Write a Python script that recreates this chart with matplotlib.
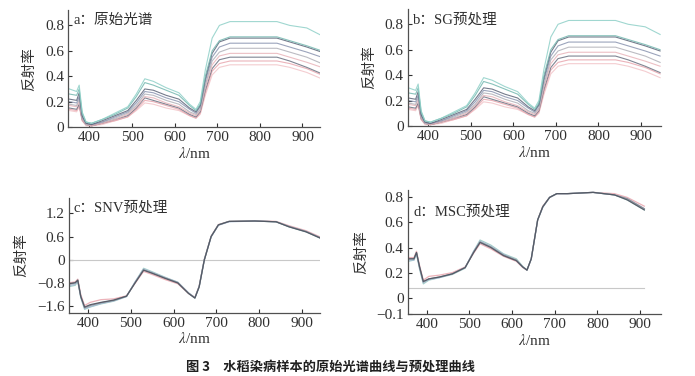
import matplotlib
matplotlib.use("Agg")
import matplotlib.pyplot as plt

plt.rcParams['font.family'] = ['Liberation Serif', 'Noto Sans CJK SC', 'DejaVu Sans']
plt.rcParams['mathtext.fontset'] = 'stix'

# wavelengths (nm) used for panels a, b and c
wl = [353, 370, 376, 383, 392, 405, 430, 460, 490, 510, 530, 550, 580,
      610, 635, 650, 660, 672, 688, 705, 730, 790, 840, 870, 910, 945]

# raw reflectance spectra (panel a), one list per sample
raw_teal = [0.30, 0.28, 0.33, 0.12, 0.04, 0.03, 0.06, 0.11, 0.16, 0.26, 0.38, 0.36, 0.31,
            0.27, 0.18, 0.14, 0.20, 0.45, 0.70, 0.80, 0.83, 0.83, 0.83, 0.80, 0.78, 0.72]
raw_teal2 = [0.26, 0.25, 0.30, 0.11, 0.04, 0.03, 0.06, 0.10, 0.15, 0.24, 0.35, 0.33, 0.29,
             0.25, 0.17, 0.13, 0.18, 0.40, 0.60, 0.68, 0.71, 0.71, 0.71, 0.68, 0.64, 0.60]
raw_dark = [0.22, 0.21, 0.27, 0.09, 0.03, 0.02, 0.05, 0.09, 0.13, 0.21, 0.30, 0.29, 0.25,
            0.22, 0.15, 0.12, 0.17, 0.38, 0.58, 0.67, 0.70, 0.70, 0.70, 0.67, 0.63, 0.59]
raw_slate = [0.20, 0.19, 0.24, 0.08, 0.03, 0.02, 0.04, 0.08, 0.12, 0.19, 0.28, 0.27, 0.23,
             0.20, 0.14, 0.11, 0.16, 0.36, 0.55, 0.63, 0.66, 0.66, 0.66, 0.63, 0.59, 0.55]
raw_gray = [0.18, 0.17, 0.22, 0.07, 0.02, 0.02, 0.04, 0.07, 0.11, 0.17, 0.26, 0.25, 0.21,
            0.18, 0.12, 0.10, 0.14, 0.33, 0.52, 0.59, 0.62, 0.62, 0.62, 0.59, 0.55, 0.50]
raw_pink = [0.17, 0.16, 0.20, 0.06, 0.02, 0.01, 0.03, 0.06, 0.10, 0.16, 0.24, 0.23, 0.19,
            0.16, 0.11, 0.09, 0.13, 0.31, 0.49, 0.56, 0.58, 0.58, 0.58, 0.55, 0.51, 0.47]
raw_dark2 = [0.15, 0.14, 0.18, 0.06, 0.02, 0.01, 0.03, 0.06, 0.09, 0.15, 0.23, 0.21, 0.18,
             0.15, 0.10, 0.08, 0.12, 0.29, 0.46, 0.53, 0.55, 0.55, 0.55, 0.52, 0.47, 0.42]
raw_pink2 = [0.14, 0.13, 0.17, 0.05, 0.02, 0.01, 0.03, 0.05, 0.08, 0.14, 0.21, 0.20, 0.17,
             0.14, 0.09, 0.07, 0.11, 0.27, 0.44, 0.50, 0.52, 0.52, 0.52, 0.50, 0.46, 0.41]
raw_pink3 = [0.13, 0.12, 0.16, 0.05, 0.01, 0.01, 0.02, 0.05, 0.08, 0.13, 0.19, 0.18, 0.15,
             0.13, 0.09, 0.07, 0.10, 0.25, 0.41, 0.47, 0.49, 0.49, 0.49, 0.47, 0.43, 0.38]

raw_curves = [raw_pink3, raw_pink2, raw_dark2, raw_pink, raw_gray,
              raw_slate, raw_dark, raw_teal2, raw_teal]
raw_colors = ['#f2c4c8', '#e8a6ae', '#6a7080', '#e9b4ba', '#b0b0b8',
              '#8a94b0', '#5c6478', '#74b8b0', '#8fd0c8']

# SNV spectra (panel c), plotted on the evenly spaced tick scale
snv_gray = [-0.64, -0.60, -0.52, -0.94, -1.24, -1.18, -1.11, -1.05, -0.94, -0.59, -0.26, -0.34, -0.47,
            -0.59, -0.86, -0.98, -0.69, 0.00, 0.60, 0.90, 0.99, 1.00, 0.98, 0.86, 0.73, 0.56]
snv_teal = [-0.70, -0.66, -0.56, -0.98, -1.28, -1.22, -1.14, -1.07, -0.95, -0.58, -0.22, -0.31, -0.45,
            -0.58, -0.86, -0.99, -0.70, 0.00, 0.60, 0.90, 0.99, 1.00, 0.98, 0.85, 0.72, 0.55]
snv_pink = [-0.60, -0.57, -0.50, -0.90, -1.18, -1.10, -1.03, -1.01, -0.93, -0.61, -0.30, -0.38, -0.51,
            -0.62, -0.87, -0.97, -0.68, 0.01, 0.61, 0.91, 0.99, 1.01, 0.99, 0.88, 0.75, 0.58]
snv_blue = [-0.68, -0.63, -0.55, -0.96, -1.26, -1.21, -1.13, -1.06, -0.95, -0.57, -0.24, -0.33, -0.46,
            -0.58, -0.85, -0.98, -0.69, 0.00, 0.59, 0.89, 0.98, 1.00, 0.98, 0.86, 0.73, 0.56]
snv_dark = [-0.62, -0.59, -0.53, -0.95, -1.22, -1.16, -1.10, -1.04, -0.94, -0.60, -0.27, -0.35, -0.48,
            -0.60, -0.87, -0.99, -0.70, -0.01, 0.60, 0.90, 0.99, 1.00, 0.98, 0.85, 0.72, 0.55]
snv_curves = [snv_pink, snv_teal, snv_blue, snv_gray, snv_dark]
snv_colors = ['#eaaab2', '#9ccac4', '#a6bcd6', '#8c8c94', '#4e5460']

# MSC spectra (panel d), on their own wavelength grid
wl_msc = [357, 370, 376, 383, 392, 405, 430, 460, 490, 510, 525, 550, 580,
          610, 625, 635, 645, 660, 672, 688, 705, 730, 790, 840, 870, 910]
msc_gray = [0.31, 0.31, 0.36, 0.245, 0.125, 0.15, 0.165, 0.19, 0.24, 0.365, 0.445, 0.405, 0.34,
            0.30, 0.245, 0.22, 0.31, 0.62, 0.725, 0.80, 0.83, 0.83, 0.84, 0.82, 0.79, 0.71]
msc_teal = [0.29, 0.30, 0.35, 0.23, 0.11, 0.14, 0.16, 0.185, 0.235, 0.37, 0.46, 0.42, 0.35,
            0.31, 0.25, 0.22, 0.31, 0.62, 0.725, 0.80, 0.83, 0.83, 0.84, 0.82, 0.78, 0.70]
msc_pink = [0.32, 0.32, 0.37, 0.26, 0.14, 0.17, 0.18, 0.20, 0.245, 0.355, 0.43, 0.39, 0.33,
            0.29, 0.24, 0.22, 0.31, 0.62, 0.73, 0.80, 0.83, 0.83, 0.84, 0.83, 0.80, 0.73]
msc_blue = [0.30, 0.30, 0.355, 0.24, 0.12, 0.145, 0.16, 0.19, 0.24, 0.37, 0.45, 0.41, 0.345,
            0.30, 0.245, 0.22, 0.31, 0.62, 0.72, 0.80, 0.83, 0.83, 0.84, 0.82, 0.79, 0.71]
msc_dark = [0.31, 0.31, 0.36, 0.25, 0.13, 0.15, 0.165, 0.19, 0.24, 0.36, 0.44, 0.40, 0.335,
            0.295, 0.245, 0.22, 0.31, 0.62, 0.725, 0.80, 0.83, 0.83, 0.84, 0.82, 0.78, 0.70]
msc_curves = [msc_pink, msc_teal, msc_blue, msc_gray, msc_dark]
msc_colors = snv_colors

x_ticks = [400, 500, 600, 700, 800, 900]


def style_axes(ax, label):
    # only the left and bottom axis lines, ticks pointing inside
    for side in ['top', 'right']:
        ax.spines[side].set_visible(False)
    for side in ['left', 'bottom']:
        ax.spines[side].set_color('#505050')
        ax.spines[side].set_linewidth(0.9)
    ax.tick_params(direction='in', length=3, width=0.8, labelsize=11,
                   colors='#303030', pad=3)
    ax.set_xticks(x_ticks)
    ax.set_xlabel(r'$\lambda$/nm', fontsize=11, color='#303030', labelpad=1)
    ax.set_ylabel('反射率', fontsize=10.5, color='#303030',
                  family=['Noto Sans CJK SC'], labelpad=6)
    ax.text(0.02, 0.97, label, transform=ax.transAxes, fontsize=10.5,
            va='top', ha='left', color='#303030')


fig = plt.figure(figsize=(6.95, 3.76), dpi=100)

# a: raw spectra
ax_a = fig.add_axes([0.098, 0.662, 0.363, 0.311])
for curve, color in zip(raw_curves, raw_colors):
    ax_a.plot(wl, curve, color=color, lw=0.8, alpha=0.85)
ax_a.set_xlim(350, 942)
ax_a.set_ylim(0, 0.92)
ax_a.set_yticks([0, 0.2, 0.4, 0.6, 0.8])
ax_a.set_yticklabels(['0', '0.2', '0.4', '0.6', '0.8'])
style_axes(ax_a, 'a：原始光谱')

# b: SG smoothed spectra (looks the same as the raw ones)
ax_b = fig.add_axes([0.587, 0.665, 0.364, 0.311])
for curve, color in zip(raw_curves, raw_colors):
    ax_b.plot(wl, curve, color=color, lw=0.8, alpha=0.85)
ax_b.set_xlim(352, 947)
ax_b.set_ylim(0, 0.92)
ax_b.set_yticks([0, 0.2, 0.4, 0.6, 0.8])
ax_b.set_yticklabels(['0', '0.2', '0.4', '0.6', '0.8'])
style_axes(ax_b, 'b：SG预处理')

# c: SNV
ax_c = fig.add_axes([0.099, 0.168, 0.361, 0.306])
ax_c.axhline(0, color='#c8c8c8', lw=0.8)
for curve, color in zip(snv_curves, snv_colors):
    ax_c.plot(wl, curve, color=color, lw=0.9, alpha=0.9)
ax_c.set_xlim(355, 942)
ax_c.set_ylim(-1.37, 1.6)
ax_c.set_yticks([-1.2, -0.6, 0, 0.6, 1.2])
ax_c.set_yticklabels(['\u22121.6', '\u22120.8', '0', '0.6', '1.2'])
style_axes(ax_c, 'c：SNV预处理')

# d: MSC
ax_d = fig.add_axes([0.587, 0.165, 0.364, 0.33])
ax_d.plot([356, 910], [0.08, 0.08], color='#c8c8c8', lw=0.8)
for curve, color in zip(msc_curves, msc_colors):
    ax_d.plot(wl_msc, curve, color=color, lw=0.9, alpha=0.9)
ax_d.set_xlim(356, 949)
ax_d.set_ylim(-0.13, 0.86)
ax_d.set_yticks([-0.13, 0, 0.2, 0.4, 0.6, 0.8])
ax_d.set_yticklabels(['\u22120.1', '0', '0.2', '0.4', '0.6', '0.8'])
style_axes(ax_d, 'd：MSC预处理')
ax_d.texts[0].set_y(0.88)

fig.text(0.475, 0.024, '图 3　水稻染病样本的原始光谱曲线与预处理曲线',
         ha='center', va='center', fontsize=9.5, fontweight='bold',
         family=['Noto Sans CJK SC'], color='#202020')

plt.savefig('out.png', dpi=100)
